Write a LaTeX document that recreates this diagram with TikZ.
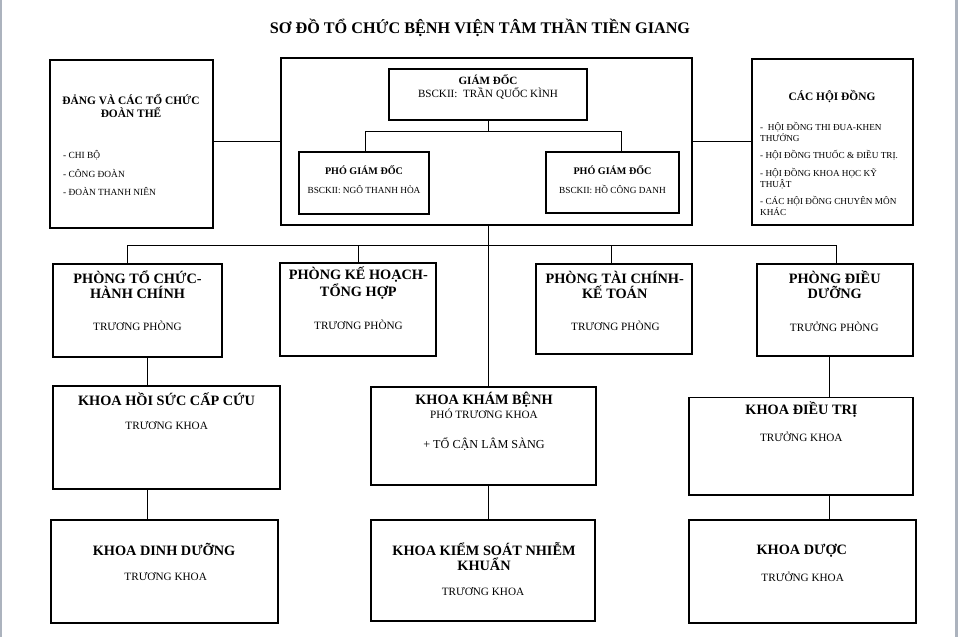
\documentclass[tikz,border=0pt]{standalone}
\usepackage{fontspec}
\setmainfont{Liberation Serif}
\definecolor{edgegray}{RGB}{172,179,190}
\begin{document}
\begin{tikzpicture}[x=1pt,y=-1pt,
  box/.style={draw, line width=1.2pt, inner sep=0pt, outer sep=0pt, anchor=north west},
  conn/.style={line width=1pt},
  ttl/.style={font=\bfseries\fontsize{16.2}{19}\selectfont, inner sep=0pt},
  hd/.style={font=\bfseries\fontsize{14.3}{15}\selectfont, align=center, inner sep=0pt},
  sub/.style={font=\fontsize{11.2}{13}\selectfont, align=center, inner sep=0pt},
  shd/.style={font=\bfseries\fontsize{11.4}{13}\selectfont, align=center, inner sep=0pt},
  lstl/.style={font=\fontsize{9.4}{18.5}\selectfont, align=left, inner sep=0pt, anchor=west},
  lstr/.style={font=\fontsize{9.2}{11}\selectfont, align=left, inner sep=0pt, anchor=west},
  gdt/.style={font=\fontsize{11.1}{12.5}\selectfont, align=center, inner sep=0pt},
  pgdt/.style={align=center, inner sep=0pt},
]
\useasboundingbox (0,0) rectangle (961,637);
\fill[white] (0,0) rectangle (961,637);
\fill[edgegray] (0,0) rectangle (1.5,637);
\fill[edgegray] (955,0) rectangle (957.5,637);

% title
\node[ttl] (title) at (480,28) {SƠ ĐỒ TỔ CHỨC BỆNH VIỆN TÂM THẦN TIỀN GIANG};

% top row boxes
\node[box, minimum width=163pt, minimum height=168pt] (dang) at (50,60) {};
\node[box, minimum width=411pt, minimum height=167pt] (bgd) at (281,58) {};
\node[box, minimum width=198pt, minimum height=51pt] (gd) at (389,69) {};
\node[box, minimum width=130pt, minimum height=62pt] (pgd1) at (299,152) {};
\node[box, minimum width=133pt, minimum height=61pt] (pgd2) at (546,152) {};
\node[box, minimum width=161pt, minimum height=166pt] (hdong) at (752,59) {};

% row 2
\node[box, minimum width=169pt, minimum height=93pt] (tchc) at (53,264) {};
\node[box, minimum width=156pt, minimum height=93pt] (khth) at (280,263) {};
\node[box, minimum width=156pt, minimum height=90pt] (tckt) at (536,264) {};
\node[box, minimum width=156pt, minimum height=92pt] (dd) at (757,264) {};

% row 3
\node[box, minimum width=227pt, minimum height=103pt] (hs) at (53,386) {};
\node[box, minimum width=225pt, minimum height=98pt] (kb) at (371,387) {};
\node[box, minimum width=224pt, minimum height=97.5pt] (dt) at (689,397.5) {};

% row 4
\node[box, minimum width=227pt, minimum height=103pt] (dinh) at (51,520) {};
\node[box, minimum width=224pt, minimum height=101pt] (ksnk) at (371,520) {};
\node[box, minimum width=227pt, minimum height=103pt] (duoc) at (689,520) {};

% texts: top row
\node[shd] (t_dang) at (131,105.5) {ĐẢNG VÀ CÁC TỔ CHỨC\\ĐOÀN THỂ};
\node[lstl] (l_dang) at (63,173.5) {- CHI BỘ\\- CÔNG ĐOÀN\\- ĐOÀN THANH NIÊN};
\node[gdt] (t_gd) at (488,87) {\textbf{GIÁM ĐỐC}\\BSCKII:\ \ TRẦN QUỐC KÌNH};
\node[pgdt] (t_pgd1) at (364,179.5) {\bfseries\fontsize{10.1}{12}\selectfont PHÓ GIÁM ĐỐC\\[7pt]\fontsize{9.3}{11}\selectfont BSCKII: NGÔ THANH HÒA};
\node[pgdt] (t_pgd2) at (612.5,179.5) {\bfseries\fontsize{10.1}{12}\selectfont PHÓ GIÁM ĐỐC\\[7pt]\fontsize{9.3}{11}\selectfont BSCKII: HỒ CÔNG DANH};
\node[shd] (t_hdong) at (832,97) {CÁC HỘI ĐỒNG};
\node[lstr] (l_hdong) at (760,169) {-\ \ HỘI ĐỒNG THI ĐUA-KHEN\\THƯỞNG\\[6.5pt]- HỘI ĐỒNG THUỐC \& ĐIỀU TRỊ.\\[6.5pt]- HỘI ĐỒNG KHOA HỌC KỸ\\THUẬT\\[6.5pt]- CÁC HỘI ĐỒNG CHUYÊN MÔN\\KHÁC};

% texts: row 2
\node[hd] (h_tchc) at (137.5,284.5) {PHÒNG TỔ CHỨC-\\HÀNH CHÍNH};
\node[sub] (s_tchc) at (137.5,325.7) {TRƯƠNG PHÒNG};
\node[hd] (h_khth) at (358.3,283) {PHÒNG KẾ HOẠCH-\\TỔNG HỢP};
\node[sub] (s_khth) at (358.5,324.7) {TRƯƠNG PHÒNG};
\node[hd] (h_tckt) at (614.7,284.5) {PHÒNG TÀI CHÍNH-\\KẾ TOÁN};
\node[sub] (s_tckt) at (615.5,325.7) {TRƯƠNG PHÒNG};
\node[hd] (h_dd) at (834.7,284.5) {PHÒNG ĐIỀU\\DƯỠNG};
\node[sub] (s_dd) at (834.3,326.7) {TRƯỞNG PHÒNG};

% texts: row 3
\node[hd] (h_hs) at (166.5,399) {KHOA HỒI SỨC CẤP CỨU};
\node[sub] (s_hs) at (166.7,426) {TRƯƠNG KHOA};
\node[hd] (h_kb) at (484,400) {KHOA KHÁM BỆNH};
\node[sub] (s_kb) at (484,414) {PHÓ TRƯƠNG KHOA};
\node[sub, font=\fontsize{12.2}{14}\selectfont] (s2_kb) at (484,444) {+ TỔ CẬN LÂM SÀNG};
\node[hd] (h_dt) at (801.5,409.5) {KHOA ĐIỀU TRỊ};
\node[sub] (s_dt) at (801.3,436.7) {TRƯỞNG KHOA};

% texts: row 4
\node[hd] (h_dinh) at (164,549) {KHOA DINH DƯỠNG};
\node[sub] (s_dinh) at (165.7,577) {TRƯƠNG KHOA};
\node[hd] (h_ksnk) at (484,556.5) {KHOA KIỂM SOÁT NHIỄM\\KHUẨN};
\node[sub] (s_ksnk) at (483,592) {TRƯƠNG KHOA};
\node[hd] (h_duoc) at (801.8,551) {KHOA DƯỢC};
\node[sub] (s_duoc) at (802.7,577) {TRƯỞNG KHOA};

% connector coordinates
\coordinate (h1) at (365,131.5);
\coordinate (h2) at (621.5,131.5);
\coordinate (busM) at (488,245);
\coordinate (busL) at (127,245);
\coordinate (busR) at (836,245);
\coordinate (b2) at (358,245);
\coordinate (b3) at (611.5,245);
\coordinate (v1) at (147.5,0);
\coordinate (v2) at (829,0);

% connectors
\draw[conn] (bgd.west -| dang.east) -- (bgd.west);
\draw[conn] (bgd.east) -- (bgd.east -| hdong.west);
\draw[conn] (gd.south) -- (gd.south |- h1);
\draw[conn] (h1) -- (h2);
\draw[conn] (h1) -- (pgd1.north -| h1);
\draw[conn] (h2) -- (pgd2.north -| h2);
\draw[conn] (bgd.south -| busM) -- (kb.north -| busM);
\draw[conn] (busL) -- (busR);
\draw[conn] (busL) -- (tchc.north -| busL);
\draw[conn] (b2) -- (khth.north -| b2);
\draw[conn] (b3) -- (tckt.north -| b3);
\draw[conn] (busR) -- (dd.north -| busR);
\draw[conn] (tchc.south -| v1) -- (hs.north -| v1);
\draw[conn] (dd.south -| v2) -- (dt.north -| v2);
\draw[conn] (hs.south -| v1) -- (dinh.north -| v1);
\draw[conn] (kb.south -| busM) -- (ksnk.north -| busM);
\draw[conn] (dt.south -| v2) -- (duoc.north -| v2);
\end{tikzpicture}
\end{document}
